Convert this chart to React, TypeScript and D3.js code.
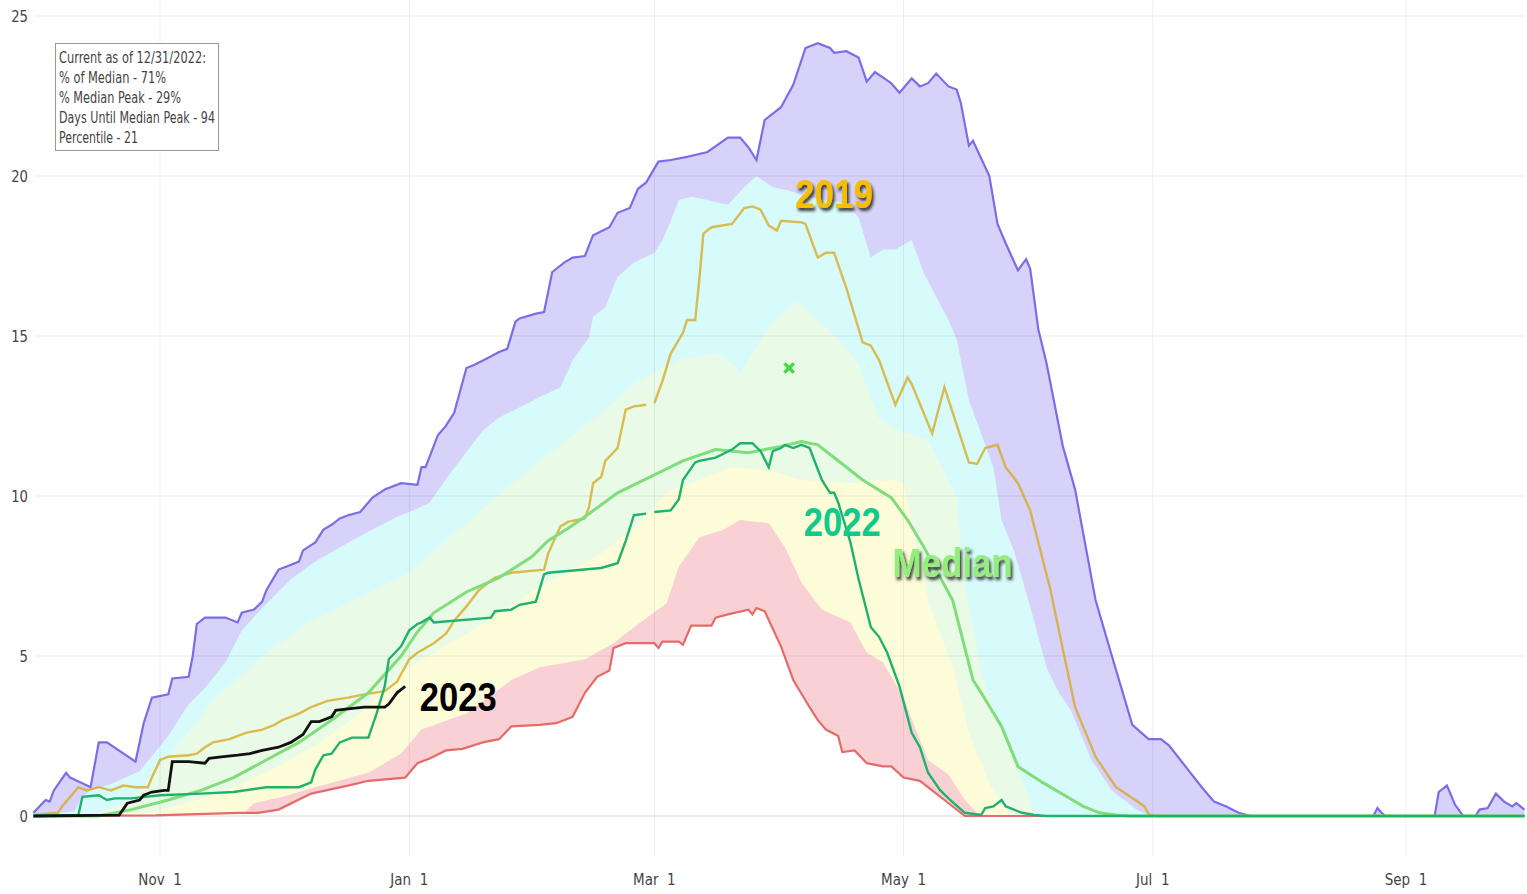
import React from "react";
import * as d3 from "d3";

type Pt = [number, number | null];

// Day offsets from Oct 1 (water year, leap-year calendar), SWE in inches
const maxSeries: Pt[] = [[0,0.1],[3,0.5],[4,0.45],[5,0.8],[8,1.35],[9,1.2],[14,0.9],[16,2.3],[18,2.3],[25,1.7],[27,2.9],[29,3.7],[33,3.8],[34,4.3],[38,4.35],[39,5.0],[40,6.0],[42,6.2],[47,6.2],[50,6.05],[51,6.35],[54,6.45],[56,6.7],[57,7.05],[60,7.7],[62,7.8],[65,7.95],[66,8.3],[69,8.55],[71,8.95],[73,9.1],[75,9.3],[77,9.4],[80,9.5],[83,9.95],[86,10.2],[90,10.4],[94,10.35],[95,10.9],[96,10.9],[99,11.9],[101,12.2],[103,12.6],[106,14.0],[108,14.1],[111,14.3],[114,14.5],[116,14.6],[118,15.45],[119,15.55],[123,15.7],[125,15.75],[127,17.0],[130,17.3],[132,17.45],[135,17.5],[137,18.15],[141,18.4],[143,18.85],[146,19.0],[148,19.6],[150,19.8],[153,20.45],[156,20.5],[160,20.6],[165,20.75],[170,21.2],[173,21.2],[175,20.9],[177,20.5],[179,21.75],[183,22.15],[186,22.85],[189,24.0],[192,24.15],[195,24.0],[196,23.85],[199,23.9],[202,23.7],[204,22.95],[206,23.25],[210,22.9],[212,22.6],[215,23.05],[217,22.8],[219,22.9],[221,23.2],[224,22.8],[226,22.7],[227,22.3],[229,20.95],[230,21.1],[234,20.0],[236,18.5],[238,17.9],[241,17.05],[243,17.4],[244,17.1],[246,15.2],[248,14.15],[252,11.55],[255,10.2],[260,6.75],[264,5.0],[269,2.85],[273,2.4],[276,2.4],[278,2.2],[282,1.55],[286,0.9],[289,0.45],[292,0.3],[295,0.1],[298,0],[328,0],[329,0.25],[330,0.1],[331,0],[343,0],[344,0.75],[346,0.95],[348,0.35],[350,0],[353,0],[354,0.2],[356,0.25],[358,0.7],[360,0.45],[362,0.3],[363,0.4],[365,0.2]];

const p90Series: Pt[] = [[0,0],[10,0.15],[12,0.6],[14,0.8],[19,1.0],[26,1.4],[33,2.5],[38,3.5],[42,4.0],[47,4.8],[51,5.8],[56,6.5],[63,7.4],[69,7.95],[75,8.4],[83,8.95],[89,9.35],[93,9.55],[97,9.8],[102,10.7],[110,12.05],[114,12.45],[121,12.9],[124,13.1],[129,13.4],[132,14.25],[136,14.95],[137,15.6],[140,15.9],[143,16.85],[147,17.3],[152,17.6],[154,18.0],[156,18.6],[158,19.25],[161,19.35],[165,19.25],[170,19.1],[174,19.65],[177,20.0],[181,19.65],[185,19.55],[189,19.35],[194,19.25],[199,19.15],[202,18.7],[205,17.45],[208,17.7],[211,17.7],[215,18.0],[218,16.95],[224,15.5],[226,14.9],[229,13.0],[235,10.9],[237,9.25],[240,8.3],[244,6.55],[248,4.65],[251,3.85],[254,3.3],[259,1.75],[264,0.8],[270,0.2],[273,0.03],[275,0],[365,0]];

const p70Series: Pt[] = [[0,0],[16,0.1],[24,0.55],[34,2.0],[44,3.6],[56,5.0],[68,6.1],[81,6.9],[92,7.6],[100,8.5],[110,9.6],[120,10.7],[130,11.7],[140,12.7],[148,13.6],[158,14.25],[167,14.45],[171,14.15],[173,13.85],[176,14.45],[180,15.3],[187,16.1],[192,15.5],[197,14.9],[202,14.15],[207,12.4],[213,12.0],[219,11.75],[224,10.5],[226,10.0],[228,7.2],[230,6.0],[232,4.5],[237,2.6],[243,0.8],[245,0.1],[247,0],[365,0]];

const p30Series: Pt[] = [[0,0],[20,0.02],[30,0.15],[40,0.5],[50,0.95],[60,1.55],[70,2.3],[80,3.2],[90,4.5],[106,5.7],[122,7.0],[139,8.2],[147,9.0],[155,10.1],[163,10.5],[171,10.9],[180,10.8],[188,10.5],[200,10.4],[210,10.5],[213,10.4],[216,8.6],[219,6.75],[225,4.65],[229,2.6],[234,1.0],[238,0.2],[240,0],[365,0]];

const p10Series: Pt[] = [[0,0],[50,0],[51,0.02],[54,0.4],[61,0.6],[69,0.9],[82,1.35],[90,1.95],[95,2.7],[106,3.2],[117,4.25],[124,4.65],[135,4.9],[142,5.4],[147,5.9],[155,6.65],[158,7.8],[163,8.7],[169,8.95],[173,9.25],[180,9.15],[184,8.4],[188,7.3],[193,6.45],[200,6.05],[204,5.1],[208,4.8],[213,3.7],[216,2.7],[219,1.75],[224,1.3],[228,0.5],[231,0.1],[233,0],[365,0]];

const minSeries: Pt[] = [[0,0],[30,0.02],[50,0.1],[55,0.1],[60,0.2],[68,0.7],[77,0.95],[82,1.1],[91,1.2],[94,1.65],[97,1.8],[101,2.05],[105,2.1],[110,2.3],[114,2.4],[117,2.8],[124,2.85],[128,2.9],[132,3.1],[135,3.85],[138,4.35],[141,4.55],[142,5.25],[145,5.4],[152,5.4],[153,5.25],[154,5.45],[158,5.45],[159,5.35],[161,5.95],[166,5.95],[167,6.2],[170,6.3],[175,6.45],[176,6.3],[177,6.5],[179,6.4],[183,5.3],[186,4.25],[190,3.4],[192,3.0],[194,2.7],[197,2.5],[198,2.0],[201,2.05],[204,1.65],[208,1.55],[210,1.55],[213,1.2],[217,1.1],[220,0.8],[223,0.5],[228,0],[365,0]];

const medianSeries: Pt[] = [[0,0],[16,0],[24,0.2],[33,0.5],[41,0.8],[49,1.2],[57,1.75],[65,2.3],[73,3.0],[82,3.85],[90,5.0],[94,5.75],[98,6.35],[106,7.0],[114,7.45],[122,8.1],[126,8.6],[131,9.0],[135,9.35],[143,10.1],[151,10.6],[159,11.1],[167,11.45],[175,11.35],[183,11.55],[188,11.7],[192,11.6],[197,11.1],[203,10.5],[210,9.95],[214,9.25],[218,8.4],[222,7.45],[225,6.75],[230,4.25],[232,3.85],[237,2.8],[241,1.55],[247,1.05],[253,0.6],[257,0.3],[261,0.1],[265,0.03],[268,0],[365,0]];

const wy2019: Pt[] = [[0,0.03],[6,0.1],[7,0.3],[11,0.9],[13,0.8],[16,0.9],[19,0.8],[22,0.95],[25,0.9],[28,0.9],[29,1.2],[31,1.75],[33,1.85],[38,1.9],[40,1.95],[42,2.15],[44,2.3],[48,2.4],[52,2.6],[56,2.7],[59,2.85],[61,3.0],[65,3.2],[68,3.4],[72,3.6],[77,3.7],[81,3.8],[86,3.9],[89,4.2],[92,4.9],[94,5.1],[98,5.4],[101,5.7],[103,6.1],[106,6.55],[109,7.05],[113,7.45],[117,7.6],[125,7.7],[126,8.2],[129,9.05],[131,9.2],[135,9.3],[136,9.65],[137,10.4],[139,10.6],[140,11.1],[143,11.5],[145,12.7],[147,12.8],[150,12.85],[151,null],[152,12.9],[154,13.6],[156,14.45],[159,15.1],[160,15.5],[162,15.5],[163,16.75],[164,18.2],[166,18.4],[171,18.5],[174,19.0],[176,19.05],[178,18.95],[180,18.45],[182,18.3],[183,18.6],[188,18.55],[189,18.5],[192,17.45],[194,17.6],[196,17.6],[199,16.5],[203,14.8],[205,14.7],[207,14.25],[211,12.85],[214,13.7],[215,13.5],[220,11.95],[223,13.4],[229,11.05],[231,11.0],[233,11.5],[236,11.6],[238,10.9],[241,10.4],[244,9.55],[249,7.05],[252,5.2],[255,3.4],[260,1.85],[265,0.9],[268,0.65],[272,0.3],[273,0.05],[275,0],[365,0]];

const wy2022: Pt[] = [[0,0],[11,0.03],[12,0.6],[16,0.65],[18,0.5],[20,0.55],[24,0.55],[31,0.65],[41,0.7],[49,0.75],[57,0.9],[65,0.9],[68,1.05],[69,1.45],[71,1.9],[73,1.95],[75,2.3],[78,2.45],[82,2.45],[84,3.2],[86,4.05],[87,4.9],[90,5.3],[92,5.8],[94,6.0],[95,6.05],[97,6.2],[98,6.05],[112,6.2],[113,6.4],[117,6.45],[119,6.6],[123,6.7],[125,7.55],[126,7.6],[139,7.75],[143,7.9],[145,8.6],[147,9.4],[150,9.45],[151,null],[152,9.5],[156,9.55],[158,9.9],[159,10.5],[162,11.05],[163,11.1],[167,11.2],[171,11.45],[173,11.65],[176,11.65],[178,11.4],[180,10.9],[181,11.4],[183,11.5],[184,11.6],[186,11.5],[188,11.6],[190,11.5],[193,10.5],[195,10.1],[196,10.1],[197,9.8],[200,8.55],[202,7.4],[205,5.9],[207,5.6],[209,5.1],[212,4.05],[215,2.6],[217,2.15],[219,1.35],[222,0.8],[224,0.55],[228,0.1],[232,0.03],[233,0.25],[235,0.3],[237,0.5],[238,0.3],[242,0.1],[245,0.03],[248,0],[365,0]];

const wy2023: Pt[] = [[0,0],[21,0.03],[23,0.4],[26,0.5],[27,0.65],[29,0.75],[32,0.8],[33,0.8],[34,1.7],[38,1.7],[42,1.65],[43,1.8],[46,1.85],[50,1.9],[53,1.95],[56,2.05],[60,2.15],[63,2.3],[66,2.55],[68,2.95],[70,2.95],[73,3.1],[74,3.3],[77,3.35],[81,3.4],[86,3.4],[87,3.5],[89,3.85],[91,4.05]];

const medianPeak: Pt = [185, 14.0];

const yTicks = [0, 5, 10, 15, 20, 25];
const xTickDates = ["2019-11-01", "2020-01-01", "2020-03-01", "2020-05-01", "2020-07-01", "2020-09-01"];

const infoLines = [
  "Current as of 12/31/2022:",
  "% of Median - 71%",
  "% Median Peak - 29%",
  "Days Until Median Peak - 94",
  "Percentile - 21",
];
const infoWidths = [147, 107, 122, 156, 79];

const annotations = [
  { text: "2019", day: 196.5, value: 19.0, color: "#F7BE00", width: 78, shadow: true },
  { text: "2022", day: 198.3, value: 8.75, color: "#12C98C", width: 77, shadow: false },
  { text: "Median", day: 225.1, value: 7.47, color: "#94EE7E", width: 120, shadow: true },
  { text: "2023", day: 104.2, value: 3.28, color: "#000000", width: 77, shadow: false },
];

const W = 1527;
const H = 894;
const dayToDate = (d: number) => new Date(2019, 9, 1 + d);

export default function App() {
  const x = d3.scaleTime().domain([new Date(2019, 9, 1), new Date(2020, 8, 30)]).range([33.4, 1524.5]);
  const y = d3.scaleLinear().domain([0, 25]).range([816, 16]);

  const area = d3
    .area<Pt>()
    .x((d) => x(dayToDate(d[0])))
    .y0(y(0))
    .y1((d) => y(d[1] as number));
  const line = d3
    .line<Pt>()
    .defined((d) => d[1] !== null)
    .x((d) => x(dayToDate(d[0])))
    .y((d) => y(d[1] as number));

  const fills: [Pt[], string][] = [
    [maxSeries, "#D6D2F9"],
    [p90Series, "#D7FAFA"],
    [p70Series, "#E9FAE6"],
    [p30Series, "#FDFCD8"],
    [p10Series, "#F9D1D4"],
    [minSeries, "#FFFFFF"],
  ];

  const fmt = d3.timeFormat("%b %-d");
  const tickDates = xTickDates.map((s) => {
    const [yy, mm, dd] = s.split("-").map(Number);
    return new Date(yy, mm - 1, dd);
  });

  const mx = x(dayToDate(medianPeak[0]));
  const my = y(medianPeak[1] as number);

  return (
    <div style={{ position: "absolute", left: 0, top: 0 }}>
      <svg width={W} height={H} style={{ display: "block", background: "#fff" }}>
        <defs>
          <filter id="shadow" x="-20%" y="-20%" width="140%" height="150%">
            <feDropShadow dx="2" dy="3" stdDeviation="1.4" floodColor="#1a1a1a" floodOpacity="0.85" />
          </filter>
        </defs>

        {fills.map(([s, c], i) => (
          <path key={i} d={area(s) || ""} fill={c} stroke="none" />
        ))}

        {/* grid */}
        {yTicks.map((t) => (
          <line key={"gy" + t} x1={34} x2={1525} y1={y(t)} y2={y(t)} stroke="rgba(20,20,60,0.09)" strokeWidth={t === 0 ? 2 : 1} />
        ))}
        {tickDates.map((d, i) => (
          <line key={"gx" + i} x1={x(d)} x2={x(d)} y1={0} y2={856} stroke="rgba(20,20,60,0.07)" strokeWidth={1} />
        ))}

        {/* lines */}
        <path d={line(maxSeries) || ""} fill="none" stroke="#7A6EE6" strokeWidth={2.2} />
        <path d={line(minSeries) || ""} fill="none" stroke="#E56B6B" strokeWidth={2.2} />
        <path d={line(wy2019) || ""} fill="none" stroke="rgba(214,170,35,0.78)" strokeWidth={2.4} />
        <path d={line(medianSeries) || ""} fill="none" stroke="#7FDD7A" strokeWidth={3} />
        <path d={line(wy2022) || ""} fill="none" stroke="#1FB26F" strokeWidth={2.4} />
        <path d={line(wy2023) || ""} fill="none" stroke="#111" strokeWidth={2.8} />

        {/* median peak marker */}
        <g stroke="#3DDB3D" strokeWidth={3.2} strokeLinecap="square">
          <line x1={mx - 3.5} y1={my - 3.5} x2={mx + 3.5} y2={my + 3.5} />
          <line x1={mx - 3.5} y1={my + 3.5} x2={mx + 3.5} y2={my - 3.5} />
        </g>

        {/* axis labels */}
        {yTicks.map((t) => (
          <text key={"ty" + t} transform={`translate(28,${y(t) + 5.5}) scale(0.88,1)`} textAnchor="end" fontFamily="DejaVu Sans, Verdana, sans-serif" fontSize={15} fill="#444">
            {t}
          </text>
        ))}
        {tickDates.map((d, i) => (
          <text key={"tx" + i} transform={`translate(${x(d)},${885}) scale(0.9,1)`} textAnchor="middle" fontFamily="DejaVu Sans, Verdana, sans-serif" fontSize={15} fill="#444">
            {fmt(d).replace(" ", "\u00a0\u00a0")}
          </text>
        ))}

        {/* annotations */}
        {annotations.map((a) => (
          <text
            key={a.text}
            x={x(dayToDate(a.day))}
            y={y(a.value)}
            textAnchor="middle"
            fontFamily="Liberation Sans, Arial, sans-serif"
            fontWeight="bold"
            fontSize={41}
            fill={a.color}
            textLength={a.width}
            lengthAdjust="spacingAndGlyphs"
            filter={a.shadow ? "url(#shadow)" : undefined}
          >
            {a.text}
          </text>
        ))}

        {/* info box */}
        <rect x={55.5} y={43.5} width={163} height={107} fill="#fff" stroke="#999" strokeWidth={1} />
        {infoLines.map((s, i) => (
          <text
            key={i}
            x={59}
            y={63 + i * 20}
            fontFamily="DejaVu Sans, Verdana, sans-serif"
            fontSize={15}
            fill="#444"
            textLength={infoWidths[i]}
            lengthAdjust="spacingAndGlyphs"
          >
            {s}
          </text>
        ))}
      </svg>
    </div>
  );
}
